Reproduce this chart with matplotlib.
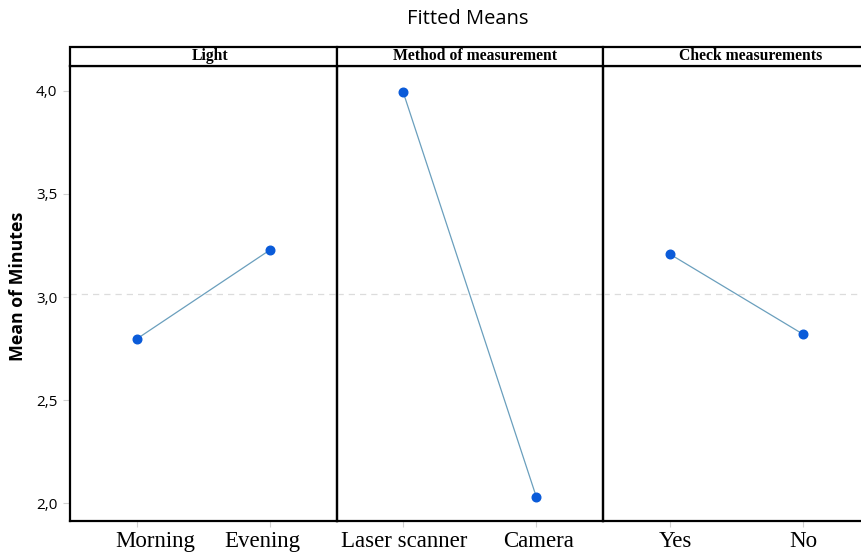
import numpy as np
import matplotlib.pyplot as plt
from matplotlib.patches import Rectangle
from matplotlib.transforms import ScaledTranslation

# fitted means per factor
factors = ["Light", "Method of measurement", "Check measurements"]
levels = [["Morning", "Evening"], ["Laser scanner", "Camera"], ["Yes", "No"]]
light_means = [2.796, 3.228]
method_means = [3.995, 2.029]
check_means = [3.209, 2.820]
y_ticks = [2.0, 2.5, 3.0, 3.5, 4.0]
y_tick_labels = ["2,0", "2,5", "3,0", "3,5", "4,0"]

means = [light_means, method_means, check_means]
grand_mean = np.mean(light_means + method_means + check_means)

fig = plt.figure(figsize=(8.61, 5.52), dpi=100)
fig.patch.set_facecolor("white")

left0 = 70 / 861
width = 266.5 / 861
bottom = 1 - 521 / 552
height = (521 - 66) / 552
strip_h = 19 / 552
# strip titles sit a little right of centre
strip_shift = [7 / 861, 5 / 861, 14 / 861]
# level labels are nudged sideways (pixels)
label_nudge = [[19, -8], [1, 2], [6, 0]]

line_color = "#6a9fbd"
dot_color = "#0a5bd9"
edge_lw = 1.6

for i, (name, labels, vals) in enumerate(zip(factors, levels, means)):
    ax = fig.add_axes([left0 + i * width, bottom, width, height])
    ax.patch.set_alpha(0)
    x = np.arange(len(labels))
    ax.axhline(grand_mean, color="#dcdcdc", lw=0.9, ls=(0, (5, 4)), zorder=1)
    ax.plot(x, vals, "-", color=line_color, lw=0.9, zorder=2)
    ax.plot(x, vals, "o", color=dot_color, markersize=6.2, zorder=3)
    ax.set_xlim(-0.5, 1.5)
    ax.set_ylim(1.913, 4.121)
    ax.set_xticks(x)
    ax.set_xticklabels(labels, fontsize=16.5, family="Liberation Serif")
    ax.tick_params(axis="x", length=4, color="#d0d0d0", pad=3)
    for lab, dx in zip(ax.get_xticklabels(), label_nudge[i]):
        lab.set_transform(lab.get_transform()
                          + ScaledTranslation(dx / 100, 0, fig.dpi_scale_trans))
    ax.set_yticks(y_ticks)
    if i == 0:
        ax.set_yticklabels(y_tick_labels, fontsize=11, family="Open Sans")
        ax.tick_params(axis="y", length=5, color="#d0d0d0", pad=4)
        ax.set_ylabel("Mean of Minutes", fontsize=12.8, fontweight="bold",
                      family="Open Sans")
        ax.yaxis.set_label_coords(-0.161, 0.515)
    else:
        ax.tick_params(axis="y", length=0, labelleft=False)
    for side in ["left", "right", "top", "bottom"]:
        ax.spines[side].set_linewidth(edge_lw)
        ax.spines[side].set_color("black")
    if i == 2:
        ax.spines["right"].set_visible(False)

    # header strip above each panel
    sx = left0 + i * width
    sy = bottom + height
    fig.patches.append(Rectangle((sx, sy), width, strip_h, transform=fig.transFigure,
                                 facecolor="white", edgecolor="black", lw=edge_lw))
    fig.text(sx + width / 2 + strip_shift[i], sy + strip_h / 2, name,
             ha="center", va="center", fontsize=11.3, fontweight="bold",
             family="Liberation Serif")

fig.text(468 / 861, 1 - 19 / 552, "Fitted Means", ha="center", va="center",
         fontsize=14.5, family="Open Sans")

plt.savefig("out.png", dpi=100, facecolor="white")
plt.close()
